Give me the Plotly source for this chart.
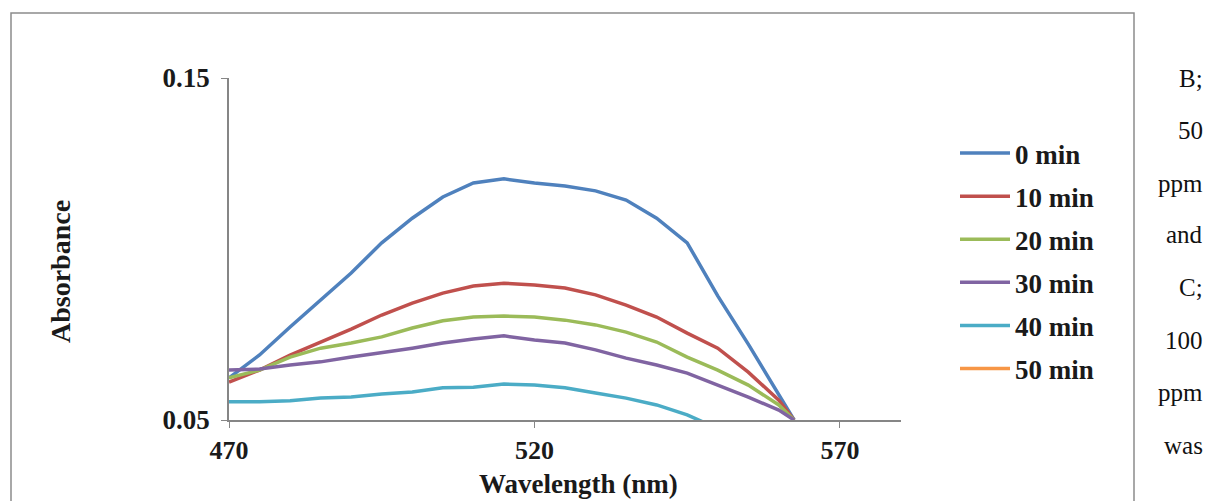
import plotly.graph_objects as go

wavelength = [470, 475, 480, 485, 490, 495, 500, 505, 510, 515, 520, 525, 530, 535, 540, 545, 550, 555, 560, 562.5]
a_0min = [0.0623, 0.0690, 0.0772, 0.0850, 0.0930, 0.1018, 0.1090, 0.1152, 0.1193, 0.1205, 0.1193, 0.1184, 0.1170, 0.1143, 0.1090, 0.1018, 0.0863, 0.0722, 0.0576, 0.0500]
a_10min = [0.0611, 0.0646, 0.0690, 0.0728, 0.0766, 0.0807, 0.0842, 0.0871, 0.0892, 0.0900, 0.0895, 0.0886, 0.0866, 0.0836, 0.0801, 0.0754, 0.0710, 0.0640, 0.0558, 0.0500]
a_20min = [0.0623, 0.0646, 0.0684, 0.0710, 0.0725, 0.0743, 0.0769, 0.0790, 0.0801, 0.0804, 0.0801, 0.0792, 0.0778, 0.0757, 0.0728, 0.0684, 0.0646, 0.0602, 0.0544, 0.0500]
a_30min = [0.0646, 0.0649, 0.0661, 0.0670, 0.0684, 0.0696, 0.0710, 0.0725, 0.0737, 0.0746, 0.0734, 0.0725, 0.0705, 0.0681, 0.0661, 0.0637, 0.0602, 0.0567, 0.0529, 0.0500]
a_40min = [0.0553, 0.0553, 0.0556, 0.0564, 0.0567, 0.0576, 0.0582, 0.0594, 0.0596, 0.0605, 0.0602, 0.0594, 0.0579, 0.0564, 0.0544, 0.0515, 0.0475, 0.0445, 0.0425, 0.0415]
a_50min = [0.0460, 0.0460, 0.0462, 0.0465, 0.0468, 0.0470, 0.0472, 0.0475, 0.0477, 0.0478, 0.0477, 0.0475, 0.0470, 0.0465, 0.0458, 0.0450, 0.0440, 0.0430, 0.0420, 0.0410]

series_names = ["0 min", "10 min", "20 min", "30 min", "40 min", "50 min"]
series_values = [a_0min, a_10min, a_20min, a_30min, a_40min, a_50min]
series_colors = ["#4F81BD", "#C0504D", "#9BBB59", "#8064A2", "#4BACC6", "#F79646"]

x_ticks = [470, 520, 570]
y_ticks = [0.05, 0.15]
y_ticktext = ["0.05", "0.15"]

side_text = ["B;", "50", "ppm", "and", "C;", "100", "ppm", "was"]

W, H = 1217, 501
SERIF = "Liberation Serif, Times New Roman, serif"

fig = go.Figure()
for name, vals, col in zip(series_names, series_values, series_colors):
    fig.add_trace(go.Scatter(x=wavelength, y=vals, mode="lines", name=name,
                             legendgroup=name,
                             line=dict(color=col, width=3.5)))

def px(xp):
    return xp / W

def py(yp):
    return 1 - yp / H

fig.update_layout(
    width=W, height=H,
    margin=dict(l=0, r=0, t=0, b=0, autoexpand=False),
    paper_bgcolor="white", plot_bgcolor="white",
    font=dict(family=SERIF, color="#1a1a1a"),
    showlegend=True,
    legend=dict(x=px(955), y=py(129), xanchor="left", yanchor="top",
                font=dict(family=SERIF, size=27, color="#1a1a1a", weight="bold"),
                itemwidth=50, tracegroupgap=5, bgcolor="rgba(0,0,0,0)"),
    xaxis=dict(domain=[px(229), px(901)], range=[470, 580], automargin=False,
               tickvals=x_ticks, ticks="outside", ticklen=6, tickcolor="#868686",
               showline=True, linecolor="#868686", linewidth=1.5,
               showgrid=False, zeroline=False,
               tickfont=dict(family=SERIF, size=26, color="#1a1a1a", weight="bold")),
    yaxis=dict(domain=[py(420), py(78)], range=[0.05, 0.15], automargin=False,
               tickvals=y_ticks, ticktext=y_ticktext, ticks="outside", ticklen=6,
               tickcolor="#868686", showline=True, linecolor="#868686", linewidth=1.5,
               showgrid=False, zeroline=False, ticklabelstandoff=6,
               tickfont=dict(family=SERIF, size=27, color="#1a1a1a", weight="bold")),
)

fig.add_shape(type="rect", xref="paper", yref="paper",
              x0=px(11), x1=px(1134), y0=py(13), y1=-0.1,
              line=dict(color="#8c8c8c", width=1.5), fillcolor="rgba(0,0,0,0)", layer="below")

fig.add_annotation(xref="paper", yref="paper", x=px(578), y=py(484),
                   text="Wavelength (nm)", showarrow=False, xanchor="center", yanchor="middle",
                   font=dict(family=SERIF, size=27, color="#1a1a1a", weight="bold"))
fig.add_annotation(xref="paper", yref="paper", x=px(60), y=py(272),
                   text="Absorbance", showarrow=False, textangle=-90,
                   xanchor="center", yanchor="middle",
                   font=dict(family=SERIF, size=28, color="#1a1a1a", weight="bold"))

side_y = [78, 130, 183, 235, 287, 340, 392, 445]
for t, yy in zip(side_text, side_y):
    fig.add_annotation(xref="paper", yref="paper", x=px(1205), y=py(yy),
                       text=t, showarrow=False, xanchor="right", yanchor="middle",
                       font=dict(family=SERIF, size=25, color="#111111"))

fig.write_html("out.html")
